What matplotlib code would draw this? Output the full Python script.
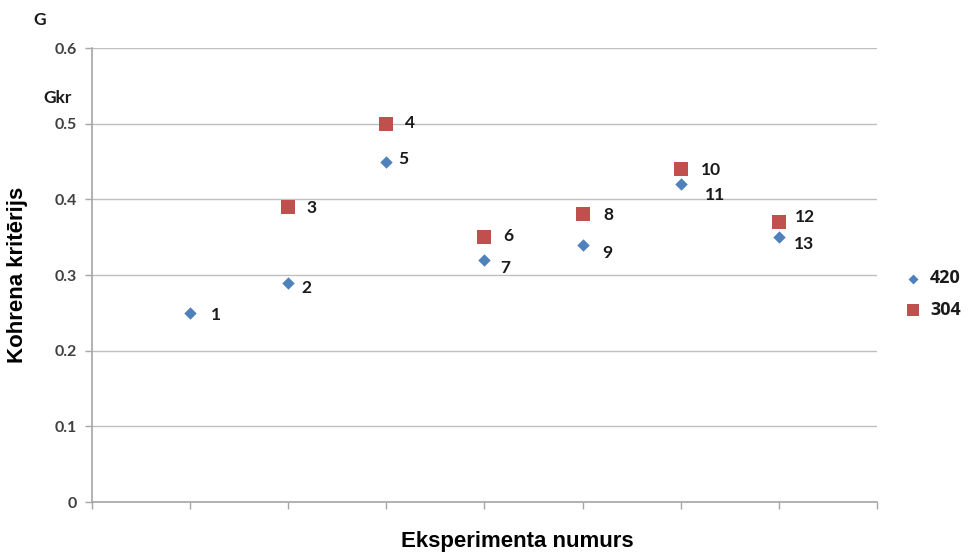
import matplotlib
matplotlib.use("Agg")
import matplotlib.pyplot as plt
from matplotlib.font_manager import FontProperties

# Kohrena kritērijs pa eksperimentiem
x_420 = [1, 2, 3, 4, 5, 6, 7]
g_420 = [0.25, 0.29, 0.45, 0.32, 0.34, 0.42, 0.35]
nr_420 = ["1", "2", "5", "7", "9", "11", "13"]

x_304 = [2, 3, 4, 5, 6, 7]
g_304 = [0.39, 0.50, 0.35, 0.38, 0.44, 0.37]
nr_304 = ["3", "4", "6", "8", "10", "12"]

y_ticks = [0, 0.1, 0.2, 0.3, 0.4, 0.5, 0.6]
y_ticklabels = ["0", "0.1", "0.2", "0.3", "0.4", "0.5", "0.6"]

# label offsets in pixels (dx, dy down)
off_420 = [(21, 2), (13, 5), (12, -3), (16, 8), (20, 8), (24, 11), (15, 7)]
off_304 = [(18, 1), (19, -1), (19, -1), (21, 1), (20, 1), (16, -5)]

blue = "#4F81BD"
red = "#C0504D"
num_font = ["Lato", "DejaVu Sans"]
lab_font = ["Liberation Sans", "DejaVu Sans"]

fig = plt.figure(figsize=(9.68, 5.53), dpi=100)
ax = fig.add_axes([0.095, 0.0922, 0.811, 0.821])

ax.scatter(x_420, g_420, marker="D", s=40, color=blue, label="420", zorder=3,
           linewidths=0)
ax.scatter(x_304, g_304, marker="s", s=115, color=red, label="304", zorder=3,
           linewidths=0)

for xv, yv, t, (dx, dy) in zip(x_420, g_420, nr_420, off_420):
    ax.annotate(t, (xv, yv), xytext=(dx, -dy), textcoords="offset pixels",
                ha="left", va="center", fontsize=12.5, fontweight="bold",
                family=num_font, color="#1a1a1a")
for xv, yv, t, (dx, dy) in zip(x_304, g_304, nr_304, off_304):
    ax.annotate(t, (xv, yv), xytext=(dx, -dy), textcoords="offset pixels",
                ha="left", va="center", fontsize=12.5, fontweight="bold",
                family=num_font, color="#1a1a1a")

ax.set_xlim(0, 8)
ax.set_ylim(0, 0.6)
ax.set_xticks(range(0, 9))
ax.set_xticklabels([])
ax.set_yticks(y_ticks)
ax.set_yticklabels(y_ticklabels, fontsize=11.5, fontweight="bold",
                   family=num_font, color="#404040")
ax.tick_params(axis="both", direction="out", length=5, color="#a6a6a6",
               width=1)
ax.tick_params(axis="y", pad=6)

ax.grid(axis="y", color="#bfbfbf", linewidth=1)
ax.set_axisbelow(True)
for side in ("top", "right"):
    ax.spines[side].set_visible(False)
for side in ("left", "bottom"):
    ax.spines[side].set_color("#a6a6a6")
    ax.spines[side].set_linewidth(1.2)

fig.text(18 / 968, 1 - 275 / 553, "Kohrena kritērijs", rotation=90,
         fontsize=16, fontweight="bold", family=lab_font,
         ha="center", va="center")
fig.text(517 / 968, 1 - 541 / 553, "Eksperimenta numurs",
         fontsize=16, fontweight="bold", family=lab_font,
         ha="center", va="center")

fig.text(40 / 968, 1 - 20 / 553, "G", fontsize=12.5, fontweight="bold",
         family=num_font, ha="center", va="center", color="#1a1a1a")
fig.text(58 / 968, 1 - 98 / 553, "Gkr", fontsize=12.5, fontweight="bold",
         family=num_font, ha="center", va="center", color="#1a1a1a")

leg_font = FontProperties(family=["Open Sans", "DejaVu Sans"], weight="bold",
                          size=13)
fig.legend(loc="center left", bbox_to_anchor=(0.929, 0.468),
           frameon=False, prop=leg_font,
           handlelength=0.9, handletextpad=0.5, labelspacing=0.75,
           markerscale=0.8, borderaxespad=0, borderpad=0.3,
           labelcolor="#1a1a1a")

fig.savefig("out.png", dpi=100, facecolor="white")
